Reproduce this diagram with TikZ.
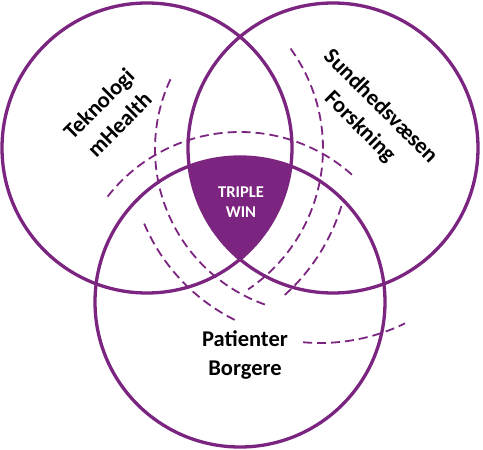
\documentclass[tikz,border=0pt]{standalone}
\usepackage{fontspec}
\setmainfont{Carlito}
\definecolor{vennpurple}{RGB}{123,36,128}
\tikzset{
  ring/.style={draw=vennpurple, line width=3.3pt},
  ripple/.style={draw=vennpurple, line width=1.8pt, dash pattern=on 9pt off 5pt},
  biglabel/.style={font=\bfseries\fontsize{22.5}{29}\selectfont, align=center, inner sep=0pt},
  winlabel/.style={font=\bfseries\fontsize{16.5}{20}\selectfont, align=center, inner sep=0pt, text=white},
}
\begin{document}
\begin{tikzpicture}[x=1pt,y=1pt]
\useasboundingbox (0,0) rectangle (483,450);
\coordinate (tek) at (147,302);
\coordinate (sund) at (333,302);
\coordinate (pat) at (240,148);
% the common part
\begin{scope}
\clip (tek) circle [radius=145];
\clip (sund) circle [radius=145];
\fill[vennpurple] (pat) circle [radius=145];
\end{scope}
\draw[ring] (tek) circle [radius=145];
\draw[ring] (sund) circle [radius=145];
\draw[ring] (pat) circle [radius=145];
% dashed ripples
\draw[ripple] (320,301) ++(155:165) arc [start angle=155, end angle=251, radius=165];
\draw[ripple] (320,301) ++(203:191) arc [start angle=203, end angle=244, radius=191];
\draw[ripple] (320,301) ++(265:194) arc [start angle=265, end angle=296, radius=194];
\draw[ripple] (153,301.5) ++(36:170) arc [start angle=36, end angle=-56, radius=170];
\draw[ripple] (153,301.5) ++(-17:197) arc [start angle=-17, end angle=-48, radius=197];
\draw[ripple] (240,150) ++(142:168) arc [start angle=142, end angle=48, radius=168];
% labels
\node[biglabel, rotate=45] (teklabel) at (109,336) {Teknologi\\mHealth};
\node[biglabel, rotate=-45] (sundlabel) at (370,333) {Sundhedsvæsen\\Forskning};
\node[biglabel] (patlabel) at (245,95) {Patienter\\Borgere};
\node[winlabel] (winlabel) at (241,248) {TRIPLE\\WIN};
\end{tikzpicture}
\end{document}
